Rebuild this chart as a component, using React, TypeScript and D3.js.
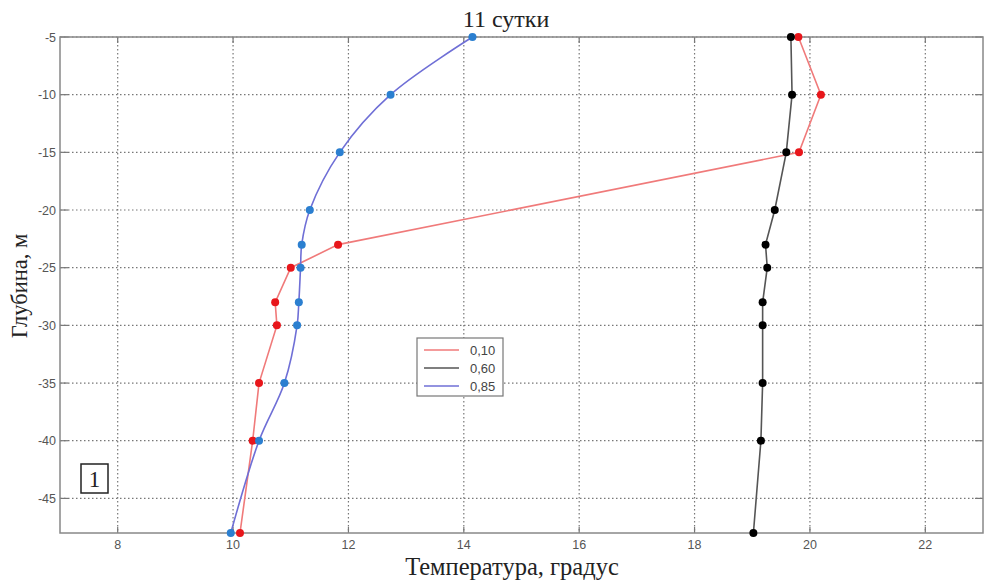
import React from "react";
import * as d3 from "d3";

const depths = [-5, -10, -15, -20, -23, -25, -28, -30, -35, -40, -48];
const redDepths = [-5, -10, -15, -23, -25, -28, -30, -35, -40, -48];
const red010 = [19.8, 20.19, 19.81, 11.82, 11.0, 10.73, 10.76, 10.45, 10.34, 10.12];
const black060 = [19.67, 19.69, 19.59, 19.39, 19.23, 19.26, 19.18, 19.18, 19.18, 19.15, 19.02];
const blue085 = [14.15, 12.73, 11.85, 11.33, 11.19, 11.17, 11.14, 11.11, 10.89, 10.45, 9.96];
const xTicks = [8, 10, 12, 14, 16, 18, 20, 22];
const yTicks = [-5, -10, -15, -20, -25, -30, -35, -40, -45];
const legendLabels = ["0,10", "0,60", "0,85"];

export default function App() {
  const W = 985, H = 582;
  const L = 60, T = 37, R = 983, B = 533;
  const x = d3.scaleLinear().domain([7, 23]).range([L, R]);
  const y = d3.scaleLinear().domain([-48, -5]).range([B, T]);

  const series = [
    { ds: redDepths, xs: red010, line: "#f07a7a", dot: "#e8161b", curve: d3.curveLinear },
    { ds: depths, xs: black060, line: "#555555", dot: "#000000", curve: d3.curveLinear },
    { ds: depths, xs: blue085, line: "#6f6fd6", dot: "#2b7fd0", curve: d3.curveCatmullRom.alpha(0.5) },
  ];
  const legendColors = ["#f07a7a", "#555555", "#6f6fd6"];

  const tickFont = "Liberation Sans, Arial, sans-serif";
  const serif = "Liberation Serif, DejaVu Serif, serif";

  return (
    <svg width={W} height={H} style={{ position: "absolute", left: 0, top: 0 }}>
      <rect x={0} y={0} width={W} height={H} fill="#fff" />
      {xTicks.map((t) => (
        <line key={"gx" + t} x1={x(t)} x2={x(t)} y1={T} y2={B} stroke="#777" strokeWidth={1.2} strokeDasharray="1.5,2.5" />
      ))}
      {yTicks.map((t) => (
        <line key={"gy" + t} x1={L} x2={R} y1={y(t)} y2={y(t)} stroke="#777" strokeWidth={1.2} strokeDasharray="1.5,2.5" />
      ))}
      {xTicks.map((t) => (
        <g key={"tx" + t}>
          <line x1={x(t)} x2={x(t)} y1={B} y2={B - 6} stroke="#777" strokeWidth={1.2} />
          <line x1={x(t)} x2={x(t)} y1={T} y2={T + 6} stroke="#777" strokeWidth={1.2} />
          <text x={x(t)} y={B + 15.5} textAnchor="middle" fontFamily={tickFont} fontSize={12.5} fill="#555">{t}</text>
        </g>
      ))}
      {yTicks.map((t) => (
        <g key={"ty" + t}>
          <line x1={L} x2={L + 8} y1={y(t)} y2={y(t)} stroke="#777" strokeWidth={1.2} />
          <line x1={R} x2={R - 8} y1={y(t)} y2={y(t)} stroke="#777" strokeWidth={1.2} />
          <text x={L - 4} y={y(t) + 4.5} textAnchor="end" fontFamily={tickFont} fontSize={12.5} fill="#555">{t}</text>
        </g>
      ))}
      <rect x={L} y={T} width={R - L} height={B - T} fill="none" stroke="#888" strokeWidth={1.5} />
      {series.map((s, i) => {
        const pts: [number, number][] = s.xs.map((v, j) => [v, s.ds[j]]);
        const gen = d3.line<[number, number]>().x((d) => x(d[0])).y((d) => y(d[1])).curve(s.curve);
        return (
          <g key={"s" + i}>
            <path d={gen(pts) || ""} fill="none" stroke={s.line} strokeWidth={1.6} />
            {pts.map((p, j) => (
              <circle key={j} cx={x(p[0])} cy={y(p[1])} r={4} fill={s.dot} />
            ))}
          </g>
        );
      })}
      <rect x={417} y={338} width={86} height={58} fill="#fff" stroke="#777" strokeWidth={1.2} />
      {legendLabels.map((lab, i) => (
        <g key={"lg" + i}>
          <line x1={424} x2={459} y1={350 + i * 18} y2={350 + i * 18} stroke={legendColors[i]} strokeWidth={1.6} />
          <text x={470} y={354.5 + i * 18} fontFamily={tickFont} fontSize={13} fill="#444">{lab}</text>
        </g>
      ))}
      <rect x={81} y={464} width={27} height={29} fill="#fff" stroke="#222" strokeWidth={1.5} />
      <text x={94.5} y={487} textAnchor="middle" fontFamily={serif} fontSize={23} fill="#222">1</text>
      <text x={506} y={27} textAnchor="middle" fontFamily={serif} fontSize={24} fill="#222">11 сутки</text>
      <text x={512} y={575} textAnchor="middle" fontFamily={serif} fontSize={24.5} fill="#222">Температура, градус</text>
      <text transform={`translate(27,${286}) rotate(-90)`} textAnchor="middle" fontFamily={serif} fontSize={22.5} fill="#222">Глубина, м</text>
    </svg>
  );
}
